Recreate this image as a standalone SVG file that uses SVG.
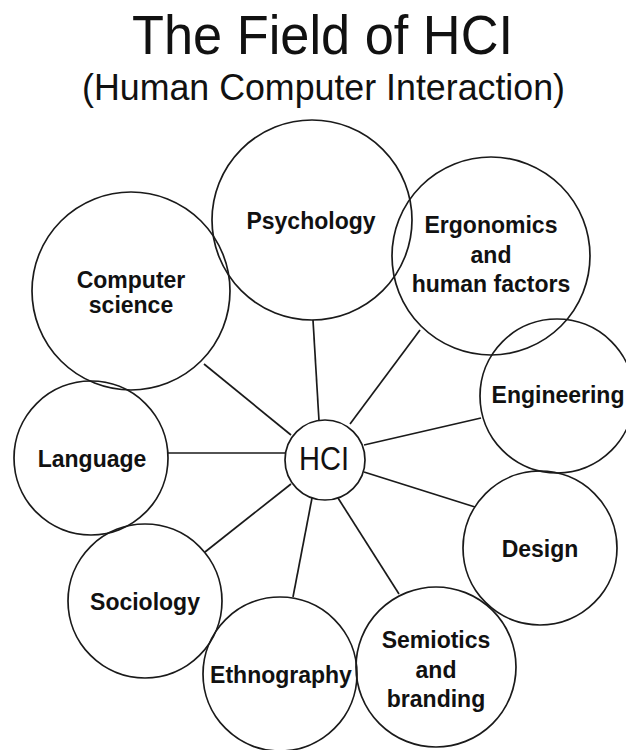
<svg xmlns="http://www.w3.org/2000/svg" width="626" height="750" viewBox="0 0 626 750">
<style>
.c{fill:none;stroke:#1a1a1a;stroke-width:1.7}
.l{stroke:#1a1a1a;stroke-width:1.7;fill:none}
.t{font-family:"Liberation Sans",Arial,sans-serif;font-weight:bold;font-size:23px;fill:#111;text-anchor:middle}
.h{font-family:"Liberation Sans",Arial,sans-serif;fill:#111}
</style>
<rect width="626" height="750" fill="#fff"/>
<g id="title">
<text class="h" x="132" y="54" font-size="55" textLength="381" lengthAdjust="spacingAndGlyphs">The Field of HCI</text>
<text class="h" x="82" y="100" font-size="37" textLength="483" lengthAdjust="spacingAndGlyphs">(Human Computer Interaction)</text>
</g>
<g id="connectors">
<line class="l" x1="313" y1="320" x2="319" y2="421"/>
<line class="l" x1="420" y1="330" x2="350" y2="424"/>
<line class="l" x1="481" y1="418" x2="364" y2="445"/>
<line class="l" x1="364" y1="472" x2="475" y2="507"/>
<line class="l" x1="338" y1="498" x2="399" y2="594"/>
<line class="l" x1="312" y1="498" x2="293" y2="597"/>
<line class="l" x1="291" y1="484" x2="205" y2="552"/>
<line class="l" x1="168" y1="453" x2="285" y2="453"/>
<line class="l" x1="204" y1="364" x2="291" y2="435"/>
</g>
<g id="hci">
<circle class="c" cx="325" cy="460" r="40"/>
<text class="h" x="324" y="470" font-size="33" text-anchor="middle" textLength="50" lengthAdjust="spacingAndGlyphs">HCI</text>
</g>
<g id="psychology">
<circle class="c" cx="312" cy="220" r="100"/>
<text class="t" x="311" y="229">Psychology</text>
</g>
<g id="computer-science">
<circle class="c" cx="131" cy="291" r="99"/>
<text class="t" x="131" y="288">Computer</text>
<text class="t" x="131" y="313">science</text>
</g>
<g id="ergonomics">
<circle class="c" cx="491" cy="256" r="99"/>
<text class="t" x="491" y="233">Ergonomics</text>
<text class="t" x="491" y="263">and</text>
<text class="t" x="491" y="292">human factors</text>
</g>
<g id="engineering">
<circle class="c" cx="557" cy="396" r="77"/>
<text class="t" x="558" y="403" font-size="21">Engineering</text>
</g>
<g id="language">
<circle class="c" cx="91" cy="458" r="77"/>
<text class="t" x="92" y="467">Language</text>
</g>
<g id="sociology">
<circle class="c" cx="145" cy="601" r="77"/>
<text class="t" x="145" y="610">Sociology</text>
</g>
<g id="ethnography">
<circle class="c" cx="280" cy="674" r="77"/>
<text class="t" x="281" y="683" font-size="21">Ethnography</text>
</g>
<g id="semiotics">
<circle class="c" cx="436" cy="667" r="80"/>
<text class="t" x="436" y="648">Semiotics</text>
<text class="t" x="436" y="678">and</text>
<text class="t" x="436" y="707">branding</text>
</g>
<g id="design">
<circle class="c" cx="540" cy="548" r="77"/>
<text class="t" x="540" y="557">Design</text>
</g>
</svg>
